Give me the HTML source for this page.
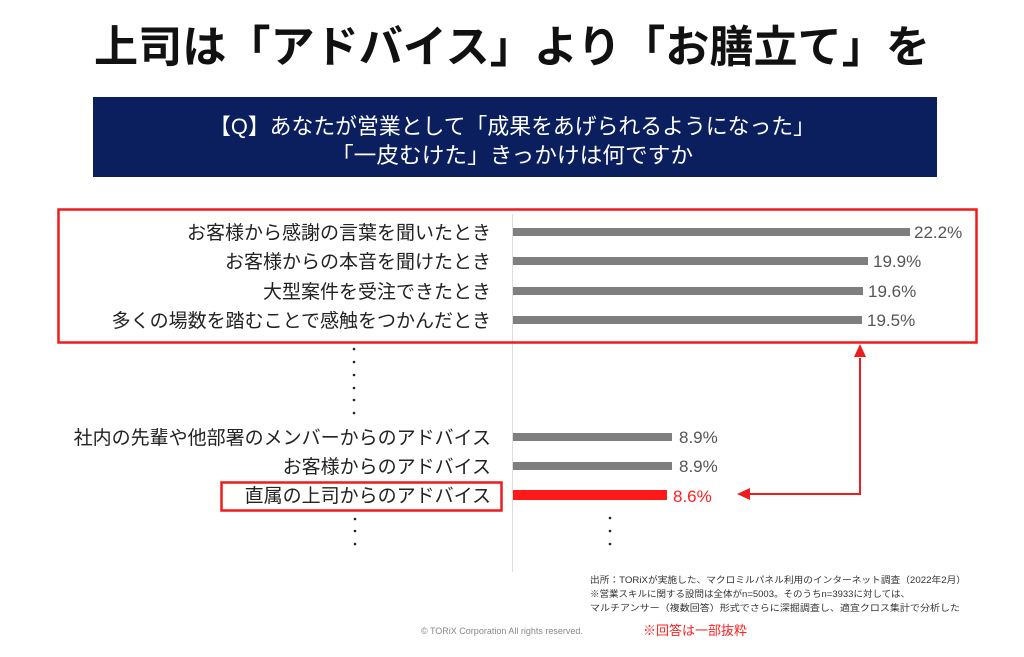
<!DOCTYPE html>
<html><head><meta charset="utf-8"><style>
html,body{margin:0;padding:0;background:#fff;}
svg{display:block;}
text{font-family:"Liberation Sans","Noto Sans CJK JP",sans-serif;}
</style></head><body>
<svg width="1024" height="657" viewBox="0 0 1024 657" xmlns="http://www.w3.org/2000/svg">
<rect width="1024" height="657" fill="#fff"/>
<text x="512" y="62" text-anchor="middle" font-size="44" font-weight="bold" fill="#111" textLength="836" lengthAdjust="spacingAndGlyphs">上司は「アドバイス」より「お膳立て」を</text>
<rect x="93" y="97" width="844" height="80" fill="#0b1f5e"/>
<text x="512" y="134" text-anchor="middle" font-size="22" fill="#fff" textLength="606" lengthAdjust="spacingAndGlyphs">【Q】あなたが営業として「成果をあげられるようになった」</text>
<text x="512" y="163" text-anchor="middle" font-size="22" fill="#fff" textLength="362" lengthAdjust="spacingAndGlyphs">「一皮むけた」きっかけは何ですか</text>
<line x1="512.5" y1="214" x2="512.5" y2="572" stroke="#ddd" stroke-width="1"/>
<g font-size="19" fill="#222" text-anchor="end">
<text x="491" y="239">お客様から感謝の言葉を聞いたとき</text>
<text x="491" y="268">お客様からの本音を聞けたとき</text>
<text x="491" y="298">大型案件を受注できたとき</text>
<text x="491" y="327">多くの場数を踏むことで感触をつかんだとき</text>
<text x="491" y="444">社内の先輩や他部署のメンバーからのアドバイス</text>
<text x="491" y="473">お客様からのアドバイス</text>
<text x="491" y="502">直属の上司からのアドバイス</text>
</g>
<g fill="#7f7f7f">
<rect x="513" y="228" width="397" height="8"/>
<rect x="513" y="257" width="355" height="8"/>
<rect x="513" y="287" width="350" height="8"/>
<rect x="513" y="316" width="349" height="8"/>
<rect x="513" y="433" width="159" height="8"/>
<rect x="513" y="462" width="159" height="8"/>
</g>
<rect x="513" y="490" width="154" height="10" fill="#ff1a1a"/>
<g font-size="17" fill="#555">
<text x="914" y="238">22.2%</text>
<text x="873" y="267">19.9%</text>
<text x="868" y="297">19.6%</text>
<text x="867" y="326">19.5%</text>
<text x="679" y="443">8.9%</text>
<text x="679" y="472">8.9%</text>
</g>
<text x="673" y="502" font-size="17" fill="#ff2020">8.6%</text>
<rect x="58.5" y="209.5" width="918" height="133" fill="none" stroke="#ee1c1c" stroke-width="2.5"/>
<rect x="221.5" y="482.5" width="280" height="28" fill="none" stroke="#ee1c1c" stroke-width="2.5"/>
<polyline points="860,358 860,494 748,494" fill="none" stroke="#ee1c1c" stroke-width="2"/>
<polygon points="860,344 854,357 866,357" fill="#ee1c1c"/>
<polygon points="737,494 750,488 750,500" fill="#ee1c1c"/>
<g fill="#222">
<circle cx="354" cy="349" r="1.3"/><circle cx="354" cy="362" r="1.3"/><circle cx="354" cy="375" r="1.3"/>
<circle cx="354" cy="388" r="1.3"/><circle cx="354" cy="400" r="1.3"/><circle cx="354" cy="413" r="1.3"/>
<circle cx="355" cy="519" r="1.3"/><circle cx="355" cy="531" r="1.3"/><circle cx="355" cy="544" r="1.3"/>
<circle cx="610" cy="518" r="1.3"/><circle cx="610" cy="531" r="1.3"/><circle cx="610" cy="544" r="1.3"/>
</g>
<g font-size="9" fill="#333">
<text x="590" y="583" textLength="376" lengthAdjust="spacingAndGlyphs">出所：TORiXが実施した、マクロミルパネル利用のインターネット調査（2022年2月）</text>
<text x="590" y="597" textLength="320" lengthAdjust="spacingAndGlyphs">※営業スキルに関する設問は全体がn=5003。そのうちn=3933に対しては、</text>
<text x="590" y="611" textLength="370" lengthAdjust="spacingAndGlyphs">マルチアンサー（複数回答）形式でさらに深掘調査し、適宜クロス集計で分析した</text>
</g>
<text x="421" y="634" font-size="9" fill="#888" font-family="Liberation Serif,serif">© TORiX Corporation All rights reserved.</text>
<text x="643" y="635" font-size="13" fill="#ff2020">※回答は一部抜粋</text>
</svg>
</body></html>
